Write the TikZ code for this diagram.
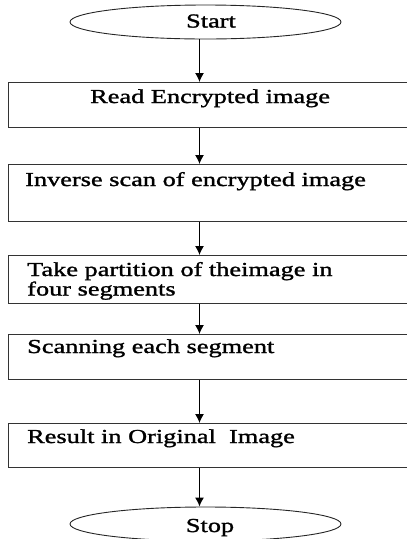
\documentclass[tikz,border=0pt]{standalone}
\usepackage{fontspec}
\setmainfont{Liberation Serif}[FakeStretch=1.33,FakeBold=1.4]
\usetikzlibrary{shapes.geometric,arrows.meta}

\tikzset{
    box/.style={draw=black!80, line width=1.4pt, rectangle, anchor=north west,
        minimum width=412pt, inner sep=0pt},
    terminal/.style={draw=black!85, line width=0.9pt, ellipse, minimum width=271pt,
        minimum height=34pt, inner sep=0pt},
    txt/.style={anchor=base west, inner sep=0pt, font=\fontsize{19.8}{19.5}\selectfont},
    arr/.style={line width=1.2pt, -{Latex[length=9pt,width=9pt]}}
}

\begin{document}
\begin{tikzpicture}[x=1pt, y=-1pt]
    \useasboundingbox (0,0) rectangle (407,539);

    % Draw start and stop
    \node[terminal] (start) at (205.5,22) {};
    \node[txt, anchor=base] (starttxt) at (211,27.5) {Start};
    \node[terminal] (stop) at (205.5,524) {};
    \node[txt, anchor=base] (stoptxt) at (210,532) {Stop};

    % Draw the boxes
    \node[box, minimum height=45pt] (read) at (8,82) {};
    \node[box, minimum height=57pt] (inverse) at (8,164) {};
    \node[box, minimum height=48pt] (partition) at (8,255) {};
    \node[box, minimum height=45pt] (scanning) at (8,334) {};
    \node[box, minimum height=44pt] (result) at (8,423) {};

    % Add labels
    \node[txt] (readtxt) at (90,103) {Read Encrypted image};
    \node[txt] (inversetxt) at (25,186) {Inverse scan of encrypted image};
    \node[txt, text width=380pt, align=left] (partitiontxt) at (27,276)
        {Take partition of theimage in\\four segments};
    \node[txt] (scanningtxt) at (27,353) {Scanning each segment};
    \node[txt] (resulttxt) at (27,443) {Result in Original\ \ Image};

    % Draw arrows
    \coordinate (spine) at (199.5,0);
    \draw[arr] (start.south -| spine) -- (read.north -| spine);
    \draw[arr] (read.south -| spine) -- (inverse.north -| spine);
    \draw[arr] (inverse.south -| spine) -- (partition.north -| spine);
    \draw[arr] (partition.south -| spine) -- (scanning.north -| spine);
    \draw[arr] (scanning.south -| spine) -- (result.north -| spine);
    \draw[arr] (result.south -| spine) -- (stop.north -| spine);
\end{tikzpicture}
\end{document}
